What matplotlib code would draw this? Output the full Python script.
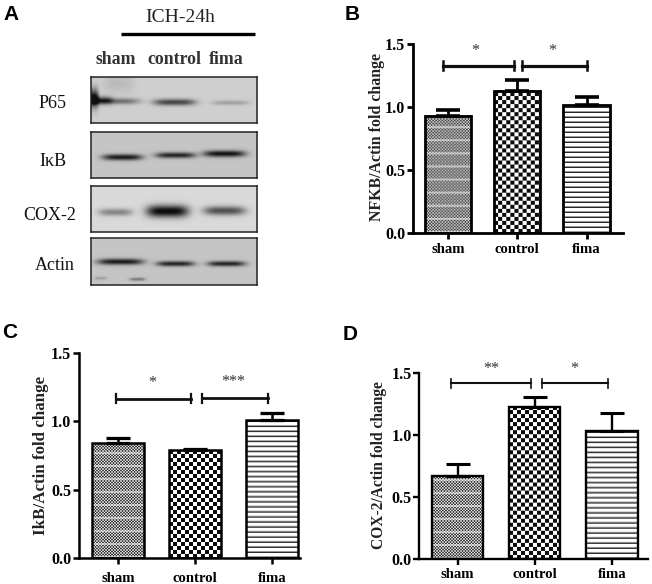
import numpy as np
import matplotlib
matplotlib.use("Agg")
import matplotlib.pyplot as plt

W, H = 652, 584
SERIF = "Liberation Serif"

categories = ["sham", "control", "fima"]
y_ticks = [0.0, 0.5, 1.0, 1.5]

nfkb_values = [0.93, 1.13, 1.02]
nfkb_errors = [0.05, 0.09, 0.06]
ikb_values = [0.84, 0.79, 1.01]
ikb_errors = [0.04, 0.01, 0.05]
cox2_values = [0.67, 1.23, 1.03]
cox2_errors = [0.10, 0.08, 0.15]

# bracket: x start, x end, height, star label, star x
nfkb_brackets = [(-0.07, 0.96, 1.33, "*", 0.39), (1.07, 2.0, 1.33, "*", 1.50)]
ikb_brackets = [(-0.03, 0.95, 1.165, "*", 0.44), (1.09, 1.94, 1.17, "***", 1.49)]
cox2_brackets = [(-0.09, 0.95, 1.42, "**", 0.435), (1.09, 1.95, 1.42, "*", 1.51)]

blot_names = ["P65", "I\u03baB", "COX-2", "Actin"]
# bands: centre x, centre y, half width, half height, darkness (reference pixels)
p65_bands = [(115, 101, 24, 3.0, 0.50), (174, 102, 21, 3.2, 0.72), (230, 102.5, 18, 2.2, 0.25),
             (92, 98, 6, 9, 1.0), (100, 100, 12, 4, 0.55), (118, 83, 15, 10, 0.10)]
ikb_bands = [(122, 157, 20, 3.0, 0.95), (175, 155, 20, 2.8, 0.90), (224, 153.5, 21, 3.2, 1.0)]
cox2_bands = [(115, 212, 17, 3.6, 0.42), (167, 211, 21, 6.0, 1.05), (224, 210.5, 21, 4.4, 0.68)]
actin_bands = [(120, 261.5, 23, 3.0, 0.95), (175, 263.5, 19, 2.6, 0.90), (226, 263.5, 19, 2.6, 0.90),
               (100, 278, 6, 1.5, 0.22), (137, 279, 8, 1.6, 0.42)]
blot_bands = [p65_bands, ikb_bands, cox2_bands, actin_bands]
blot_backgrounds = [0.81, 0.77, 0.85, 0.77]


def pix_axes(fig, x0, x1, ytop, ybot):
    return fig.add_axes([x0 / W, 1 - ybot / H, (x1 - x0) / W, (ybot - ytop) / H])


def texture(kind, w, h):
    yy, xx = np.mgrid[0:h, 0:w]
    if kind == "sham":
        t = 0.55 + 0.6 * np.cos(2 * np.pi * xx / 3) * np.cos(2 * np.pi * yy / 3)
        t = np.where(yy % 13 < 2, t * 0.5 + 0.5, t)
        return np.clip(t, 0, 1)
    if kind == "control":
        return np.where(((xx // 4) + (yy // 4)) % 2 == 0, 0.05, 1.0)
    t = np.where(yy % 5 == 0, 0.15, np.where(yy % 5 == 1, 0.6, 1.0))
    return t


def bar_panel(rect, xlim, values, errors, brackets, ylabel, ylabel_x, ylabel_y, lab_fs, lw, br_lw, x_pad):
    ax = pix_axes(fig, *rect)
    ax.set_xlim(*xlim)
    ax.set_ylim(0, 1.5)
    ax.patch.set_alpha(0)
    x = np.arange(len(categories))
    bars = ax.bar(x, values, width=0.67, facecolor="none", edgecolor="black", linewidth=lw, zorder=3)
    ax.errorbar(x, values, yerr=[[0] * 3, errors], fmt="none", ecolor="black", elinewidth=lw,
                capsize=8.5, capthick=lw * 1.3, zorder=2)
    pxw = (rect[1] - rect[0]) / (xlim[1] - xlim[0])
    pxh = (rect[3] - rect[2]) / 1.5
    for b, kind in zip(bars, categories):
        bx, bw, bh = b.get_x(), b.get_width(), b.get_height()
        tex = texture(kind, int(round(bw * pxw)), int(round(bh * pxh)))
        ax.imshow(tex, extent=(bx, bx + bw, 0, bh), aspect="auto", cmap="gray", vmin=0, vmax=1,
                  interpolation="bilinear", origin="lower", zorder=1)
    ax.set_xlim(*xlim)
    ax.set_ylim(0, 1.5)
    for s in ("top", "right"):
        ax.spines[s].set_visible(False)
    for s in ("left", "bottom"):
        ax.spines[s].set_linewidth(lw)
    ax.set_xticks(x, categories)
    ax.set_yticks(y_ticks, [f"{v:.1f}" for v in y_ticks])
    ax.tick_params(axis="y", width=lw, length=4, pad=1.5, labelsize=11.5)
    ax.tick_params(axis="x", width=lw, length=4, pad=x_pad, labelsize=10.6)
    for t in ax.get_xticklabels() + ax.get_yticklabels():
        t.set_fontfamily(SERIF)
        t.set_fontweight("bold")
    ax.set_ylabel(ylabel, fontfamily=SERIF, fontweight="bold", fontsize=lab_fs, color="#222222")
    ax.yaxis.set_label_coords(ylabel_x, ylabel_y)
    cap = 4.5 / pxh
    for x0, x1, y, star, star_x in brackets:
        ax.plot([x0, x1], [y, y], color="#111111", lw=br_lw, clip_on=False, zorder=4)
        for xe in (x0, x1):
            ax.plot([xe, xe], [y - cap, y + cap], color="#111111", lw=br_lw * 0.8, clip_on=False, zorder=4)
        ax.text(star_x, y + 0.115, star, ha="center", va="center", fontsize=11.5,
                fontfamily=SERIF, color="#333333", clip_on=False)
    return ax


def blot_panel(fig, x0, x1, ytop, ybot, bands, bg):
    ax = pix_axes(fig, x0, x1, ytop, ybot)
    xs = np.arange(x0, x1, 0.5)
    ys = np.arange(ytop, ybot, 0.5)
    X, Y = np.meshgrid(xs, ys)
    dark = np.zeros_like(X)
    for cx, cy, hw, hh, d in bands:
        dark += d * np.exp(-((X - cx) / hw) ** 4) * np.exp(-((Y - cy) / hh) ** 2)
    img = np.clip(bg * (1 - np.clip(dark, 0, 1)) + 0.06 * np.clip(dark, 0, 1), 0, 1)
    ax.imshow(img, cmap="gray", vmin=0, vmax=1, aspect="auto", interpolation="bilinear",
              extent=(x0, x1, ybot, ytop))
    ax.set_xticks([])
    ax.set_yticks([])
    for s in ax.spines.values():
        s.set_linewidth(1.1)
        s.set_color("#222222")
    return ax


fig = plt.figure(figsize=(W / 100, H / 100), dpi=100, facecolor="white")

# Panel A: western blot
blot_rows = [(77, 123), (132, 178), (186, 232), (238, 285)]
for (yt, yb), bands, bg in zip(blot_rows, blot_bands, blot_backgrounds):
    blot_panel(fig, 90.7, 256.7, yt, yb, bands, bg)

overlay = fig.add_axes([0, 0, 1, 1])
overlay.set_xlim(0, W)
overlay.set_ylim(H, 0)
overlay.axis("off")
overlay.patch.set_alpha(0)
overlay.plot([121, 255], [33.7, 33.7], color="black", lw=2.4, solid_capstyle="butt")


def serif_text(x, y, s, fs=11, weight="normal", color="#222222"):
    overlay.text(x, y, s, ha="center", va="center", fontsize=fs, fontfamily=SERIF,
                 fontweight=weight, color=color)


serif_text(180, 18, "ICH-24h", 14)
for xc, name in zip([116, 174, 226], categories):
    serif_text(xc, 59, name, 12.8, "bold", "#333333")
for (xc, yc), name in zip([(53, 104), (53, 161), (50, 216), (55, 265)], blot_names):
    serif_text(xc, yc, name, 13, "normal", "#111111")

for (xc, yc), letter in zip([(11, 15), (352.5, 14), (10, 333), (350, 334)], "ABCD"):
    overlay.text(xc, yc, letter, ha="center", va="center", fontsize=15, fontfamily="Liberation Sans",
                 fontweight="bold", color="black")

# Panels B, C, D: bar charts
bar_panel((412.7, 622.6, 44.3, 233.3), (-0.507, 2.52), nfkb_values, nfkb_errors, nfkb_brackets,
          "NFKB/Actin fold change", -0.13, 0.51, 11.4, 2.0, 2.3, 3)
bar_panel((78.7, 300, 353, 558), (-0.51, 2.36), ikb_values, ikb_errors, ikb_brackets,
          "IkB/Actin fold change", -0.135, 0.50, 12.2, 1.8, 2.0, 6)
bar_panel((419.3, 648, 373.3, 558.7), (-0.496, 2.47), cox2_values, cox2_errors, cox2_brackets,
          "COX-2/Actin fold change", -0.14, 0.505, 11.2, 1.7, 1.5, 3)

fig.savefig("out.png", dpi=100)
